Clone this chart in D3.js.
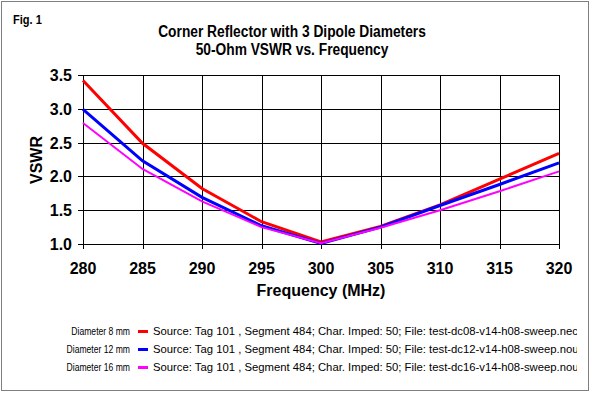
<!DOCTYPE html>
<html>
<head>
<meta charset="utf-8">
<script src="https://cdn.jsdelivr.net/npm/d3@7"></script>
<style>
  body { margin: 0; background: #fff; }
  svg { display: block; }
  text { font-family: "Liberation Sans", Arial, sans-serif; }
</style>
</head>
<body>
<svg id="demo" width="592" height="394"></svg>
<script>
// datos
var freqs = [280, 285, 290, 295, 300, 305, 310, 315, 320];
var vswr8 = [3.42, 2.49, 1.82, 1.33, 1.03, 1.26, 1.58, 1.96, 2.34];
var vswr12 = [2.99, 2.23, 1.69, 1.27, 1.01, 1.25, 1.57, 1.88, 2.20];
var vswr16 = [2.79, 2.11, 1.63, 1.25, 1.01, 1.24, 1.50, 1.78, 2.075];
var xTicks = [280, 285, 290, 295, 300, 305, 310, 315, 320];
var yTicks = [1.0, 1.5, 2.0, 2.5, 3.0, 3.5];
var seriesNames = ["Diameter 8 mm", "Diameter 12 mm", "Diameter 16 mm"];
var sourceText = [
    "Source: Tag 101 , Segment 484; Char. Imped: 50; File: test-dc08-v14-h08-sweep.nec",
    "Source: Tag 101 , Segment 484; Char. Imped: 50; File: test-dc12-v14-h08-sweep.nout",
    "Source: Tag 101 , Segment 484; Char. Imped: 50; File: test-dc16-v14-h08-sweep.nout"
];
var colors = ["#ff0000", "#0000ff", "#ff00ff"];
var widths = [3, 3, 2];

var svg = d3.select("#demo");

// escalas
var xScale = d3.scaleLinear().domain([280, 320]).range([83, 559]);
var yScale = d3.scaleLinear().domain([1.0, 3.5]).range([244, 75]);

// comprime el texto horizontalmente (fuente de pantalla estrecha)
function squeeze(sel, f) {
    sel.each(function() {
        var w = this.getComputedTextLength();
        d3.select(this).attr("textLength", w * f).attr("lengthAdjust", "spacingAndGlyphs");
    });
}

// borde punteado
svg.append("rect")
    .attr("x", 1.5).attr("y", 1.5)
    .attr("width", 587).attr("height", 389)
    .attr("fill", "none")
    .attr("stroke", "#000")
    .attr("stroke-width", 1)
    .attr("stroke-dasharray", "1,1");

svg.append("text")
    .attr("x", 13).attr("y", 24)
    .attr("font-size", 13).attr("font-weight", "bold")
    .text("Fig. 1")
    .call(squeeze, 0.85);

svg.append("text")
    .attr("x", 292).attr("y", 37)
    .attr("text-anchor", "middle")
    .attr("font-size", 16).attr("font-weight", "bold")
    .text("Corner Reflector with 3 Dipole Diameters")
    .call(squeeze, 0.86);
svg.append("text")
    .attr("x", 292).attr("y", 55)
    .attr("text-anchor", "middle")
    .attr("font-size", 16).attr("font-weight", "bold")
    .text("50-Ohm VSWR vs. Frequency")
    .call(squeeze, 0.86);

// rejilla
svg.selectAll(".hgrid").data(yTicks).enter()
    .append("line")
    .attr("x1", 78).attr("x2", 559)
    .attr("y1", d => Math.round(yScale(d)) + 0.5)
    .attr("y2", d => Math.round(yScale(d)) + 0.5)
    .attr("stroke", "#000");
svg.selectAll(".vgrid").data(xTicks).enter()
    .append("line")
    .attr("x1", d => Math.round(xScale(d)) + 0.5)
    .attr("x2", d => Math.round(xScale(d)) + 0.5)
    .attr("y1", 75).attr("y2", 249)
    .attr("stroke", "#000");

// etiquetas de ejes
svg.selectAll(".ylab").data(yTicks).enter()
    .append("text")
    .attr("x", 72)
    .attr("y", d => yScale(d) + 6)
    .attr("text-anchor", "end")
    .attr("font-size", 16).attr("font-weight", "bold")
    .text(d => d.toFixed(1));
svg.selectAll(".xlab").data(xTicks).enter()
    .append("text")
    .attr("x", d => xScale(d))
    .attr("y", 274)
    .attr("text-anchor", "middle")
    .attr("font-size", 16).attr("font-weight", "bold")
    .text(d => d);

svg.append("text")
    .attr("transform", "translate(42,160) rotate(-90)")
    .attr("text-anchor", "middle")
    .attr("font-size", 16).attr("font-weight", "bold")
    .text("VSWR");
svg.append("text")
    .attr("x", 321).attr("y", 296)
    .attr("text-anchor", "middle")
    .attr("font-size", 16).attr("font-weight", "bold")
    .text("Frequency (MHz)");

// lineas
var line = d3.line()
    .x(d => xScale(d[0]))
    .y(d => yScale(d[1]));

[vswr8, vswr12, vswr16].forEach((serie, i) => {
    svg.append("path")
        .attr("d", line(freqs.map((f, j) => [f, serie[j]])))
        .attr("fill", "none")
        .attr("stroke", colors[i])
        .attr("stroke-width", widths[i]);
});

// leyenda
svg.append("clipPath").attr("id", "legclip")
    .append("rect").attr("x", 0).attr("y", 310).attr("width", 577).attr("height", 80);

var leg = svg.append("g").attr("clip-path", "url(#legclip)");
seriesNames.forEach((name, i) => {
    var y = 335 + i * 18;
    leg.append("text")
        .attr("x", 130).attr("y", y)
        .attr("text-anchor", "end")
        .attr("font-size", 11)
        .text(name)
        .call(squeeze, 0.78);
    leg.append("line")
        .attr("x1", 138).attr("x2", 148)
        .attr("y1", y - 3.5).attr("y2", y - 3.5)
        .attr("stroke", colors[i]).attr("stroke-width", 3);
    leg.append("text")
        .attr("x", 153).attr("y", y)
        .attr("font-size", 11.3)
        .text(sourceText[i]);
});
</script>
</body>
</html>
